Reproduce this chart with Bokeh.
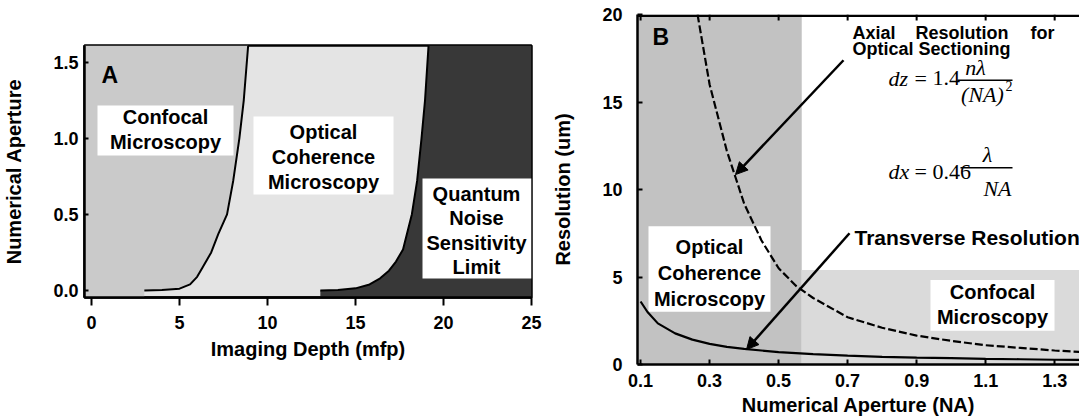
from jinja2 import Template
from bokeh.plotting import figure
from bokeh.models import Range1d, FixedTicker, PrintfTickFormatter, Arrow, NormalHead
from bokeh.core.properties import value
from bokeh.embed import file_html
from bokeh.resources import INLINE

# ---------------- data: panel A ----------------
depth_ticks = [0, 5, 10, 15, 20, 25]
na_ticks = [0.0, 0.5, 1.0, 1.5]
# confocal / OCM boundary (imaging depth in mfp vs numerical aperture)
confocal_depth = [3.0, 4.0, 5.0, 5.6, 6.0, 6.3, 6.8, 7.2, 7.7, 8.05, 8.4, 8.65, 8.9]
confocal_na = [0.0, 0.003, 0.012, 0.04, 0.09, 0.15, 0.25, 0.37, 0.5, 0.72, 1.0, 1.25, 1.61]
# OCM / quantum-noise boundary
ocm_depth = [13.0, 14.0, 15.0, 15.8, 16.4, 16.9, 17.3, 17.7, 18.2, 18.5, 18.75, 18.95, 19.15]
ocm_na = [0.0, 0.004, 0.014, 0.04, 0.08, 0.13, 0.19, 0.27, 0.5, 0.72, 1.0, 1.25, 1.61]

# ---------------- data: panel B ----------------
na_b_ticks = [0.1, 0.3, 0.5, 0.7, 0.9, 1.1, 1.3]
res_ticks = [0, 5, 10, 15, 20]
axial_na = [0.265, 0.3, 0.35, 0.375, 0.4, 0.45, 0.5, 0.55, 0.6, 0.7, 0.8, 0.9, 1.0, 1.1, 1.2, 1.3, 1.372]
axial_res = [20.0, 16.0, 12.2, 10.7, 9.2, 7.1, 5.5, 4.5, 3.8, 2.7, 2.1, 1.65, 1.35, 1.1, 0.95, 0.8, 0.72]
trans_na = [0.1, 0.12, 0.15, 0.2, 0.25, 0.3, 0.35, 0.4, 0.5, 0.6, 0.7, 0.8, 0.9, 1.0, 1.1, 1.2, 1.3, 1.372]
trans_res = [3.6, 3.0, 2.35, 1.78, 1.42, 1.18, 1.01, 0.89, 0.71, 0.59, 0.51, 0.44, 0.39, 0.36, 0.32, 0.3, 0.27, 0.26]
ocm_limit_na = 0.567
confocal_band_res = 5.4

SANS = value("Liberation Sans")
SERIF = value("Liberation Serif")

# ---------------- panel A ----------------
AX0, AX1, AY0, AY1 = -0.4, 25.0, -0.046, 1.61
A_L, A_R, A_T, A_B = 84, 531, 45, 297


def ax(px):
    return AX0 + (px - A_L) * (AX1 - AX0) / (A_R - A_L)


def ay(py):
    return AY1 - (py - A_T) * (AY1 - AY0) / (A_B - A_T)


pa = figure(width=545, height=418, output_backend="svg", toolbar_location=None,
            x_range=Range1d(AX0, AX1), y_range=Range1d(AY0, AY1),
            min_border_left=A_L, min_border_right=545 - A_R, min_border_top=A_T,
            min_border_bottom=418 - A_B)
pa.background_fill_color = "#e4e4e4"
pa.border_fill_color = "white"
pa.outline_line_color = "black"
pa.outline_line_width = 2.5
pa.xgrid.grid_line_color = None
pa.ygrid.grid_line_color = None

# region fills
n1 = len(confocal_na)
pa.harea(y=[AY0] + confocal_na, x1=[AX0] * (n1 + 1), x2=[confocal_depth[0]] + confocal_depth,
         fill_color="#cacaca")
n2 = len(ocm_na)
pa.harea(y=[AY0] + ocm_na, x1=[ocm_depth[0]] + ocm_depth, x2=[AX1] * (n2 + 1),
         fill_color="#383838")
pa.line(confocal_depth, confocal_na, line_color="black", line_width=2)
pa.line(ocm_depth, ocm_na, line_color="black", line_width=2)

# text boxes
pa.quad(left=[ax(97), ax(253), ax(422)], right=[ax(233), ax(393), ax(531)],
        top=[ay(105), ay(116), ay(178)], bottom=[ay(155), ay(194), ay(278)],
        fill_color="white", line_color=None)
box_txt = ["Confocal", "Microscopy", "Optical", "Coherence", "Microscopy",
           "Quantum", "Noise", "Sensitivity", "Limit"]
box_x = [165, 165, 323, 323, 323, 476, 476, 476, 476]
box_y = [116, 141, 131, 156, 181, 193, 217, 242, 266]
pa.text(x=[ax(v) for v in box_x], y=[ay(v) for v in box_y], text=box_txt,
        text_font=SANS, text_font_style="bold", text_font_size="20px",
        text_align="center", text_baseline="middle", text_color="black")
pa.text(x=[ax(101)], y=[ay(74)], text=["A"], text_font=SANS, text_font_style="bold",
        text_font_size="23px", text_align="left", text_baseline="middle", text_color="black")

pa.xaxis.ticker = FixedTicker(ticks=depth_ticks)
pa.yaxis.ticker = FixedTicker(ticks=na_ticks)
pa.yaxis.formatter = PrintfTickFormatter(format="%.1f")
pa.xaxis.axis_label = "Imaging Depth (mfp)"
pa.yaxis.axis_label = "Numerical Aperture"
for axis in (pa.xaxis[0], pa.yaxis[0]):
    axis.axis_line_width = 2.5
    axis.major_tick_line_width = 2
    axis.minor_tick_line_color = None
    axis.major_label_text_font = "Liberation Sans"
    axis.major_label_text_font_style = "bold"
    axis.major_label_text_font_size = "18px"
    axis.major_label_text_color = "black"
    axis.axis_label_text_font = "Liberation Sans"
    axis.axis_label_text_font_style = "bold"
    axis.axis_label_text_font_size = "20px"
    axis.axis_label_text_color = "black"
pa.xaxis.major_tick_out = 8
pa.xaxis.major_tick_in = 0
pa.xaxis.major_label_standoff = 10
pa.xaxis.axis_label_standoff = 6
pa.yaxis.major_tick_out = 0
pa.yaxis.major_tick_in = 4
pa.yaxis.major_label_standoff = 6
pa.yaxis.axis_label_standoff = 25

# ---------------- panel B ----------------
BX0, BX1, BY0, BY1 = 0.091, 1.372, 0.0, 20.0
B_L, B_R, B_T, B_B = 637 - 545, 1079 - 545, 14, 366


def bx(px):
    return BX0 + (px - 637) * (BX1 - BX0) / (1079 - 637)


def by(py):
    return BY1 - (py - B_T) * (BY1 - BY0) / (B_B - B_T)


pb = figure(width=534, height=418, output_backend="svg", toolbar_location=None,
            x_range=Range1d(BX0, BX1), y_range=Range1d(BY0, BY1),
            min_border_left=B_L, min_border_right=0, min_border_top=B_T,
            min_border_bottom=418 - B_B)
pb.background_fill_color = "white"
pb.border_fill_color = "white"
pb.outline_line_color = None
pb.xgrid.grid_line_color = None
pb.ygrid.grid_line_color = None
bottom_axis = pb.xaxis[0]
left_axis = pb.yaxis[0]

pb.quad(left=[BX0], right=[ocm_limit_na], bottom=[BY0], top=[BY1],
        fill_color="#c2c2c2", line_color=None)
pb.quad(left=[ocm_limit_na], right=[BX1], bottom=[BY0], top=[confocal_band_res],
        fill_color="#dadada", line_color=None)

# top frame edge with inward tick marks
edge_off = (BY1 - BY0) * 1.2 / (B_B - B_T)
tick_len = (BY1 - BY0) * 6 / (B_B - B_T)
pb.line(x=[BX0, BX1], y=[BY1 - edge_off, BY1 - edge_off], line_color="black", line_width=2.5)
pb.segment(x0=na_b_ticks, x1=na_b_ticks, y0=[BY1] * len(na_b_ticks),
           y1=[BY1 - tick_len] * len(na_b_ticks), line_color="black", line_width=2)

# text boxes
pb.quad(left=[bx(648), bx(930)], right=[bx(770), bx(1054)],
        top=[by(227), by(281)], bottom=[by(313), by(332)],
        fill_color="white", line_color=None)

pb.line(axial_na, axial_res, line_color="black", line_width=2.2, line_dash="8 3")
pb.line(trans_na, trans_res, line_color="black", line_width=2.2)

pb_txt = ["Optical", "Coherence", "Microscopy", "Confocal", "Microscopy"]
pb_x = [709, 709, 709, 992, 992]
pb_y = [248, 274, 300, 293, 318]
pb.text(x=[bx(v) for v in pb_x], y=[by(v) for v in pb_y], text=pb_txt,
        text_font=SANS, text_font_style="bold", text_font_size="20px",
        text_align="center", text_baseline="middle", text_color="black")
pb.text(x=[bx(652)], y=[by(37)], text=["B"], text_font=SANS, text_font_style="bold",
        text_font_size="23px", text_align="left", text_baseline="middle", text_color="black")

# annotation texts
pb.text(x=[bx(852), bx(915), bx(1030)], y=[by(33)] * 3, text=["Axial", "Resolution", "for"],
        text_font=SANS, text_font_style="bold", text_font_size="18px",
        text_align="left", text_baseline="middle", text_color="black")
pb.text(x=[bx(852)], y=[by(49)], text=["Optical Sectioning"],
        text_font=SANS, text_font_style="bold", text_font_size="18px",
        text_align="left", text_baseline="middle", text_color="black")
pb.text(x=[bx(854)], y=[by(238)], text=["Transverse Resolution"],
        text_font=SANS, text_font_style="bold", text_font_size="21px",
        text_align="left", text_baseline="middle", text_color="black")

# equations
pb.text(x=[bx(888), bx(888)], y=[by(78), by(172)], text=["dz", "dx"],
        text_font=SERIF, text_font_style="italic", text_font_size="22px",
        text_align="left", text_baseline="middle", text_color="black")
pb.text(x=[bx(914), bx(914), bx(932), bx(932)], y=[by(78), by(172), by(78), by(172)],
        text=["=", "=", "1.4", "0.46"],
        text_font=SERIF, text_font_size="22px",
        text_align="left", text_baseline="middle", text_color="black")
pb.text(x=[bx(975), bx(987), bx(982), bx(997)], y=[by(67), by(155), by(94), by(189)],
        text=["n\u03bb", "\u03bb", "(NA)", "NA"],
        text_font=SERIF, text_font_style="italic", text_font_size="22px",
        text_align="center", text_baseline="middle", text_color="black")
pb.text(x=[bx(1005)], y=[by(86)], text=["2"], text_font=SERIF, text_font_size="14px",
        text_align="left", text_baseline="middle", text_color="black")
pb.segment(x0=[bx(957), bx(960)], x1=[bx(1012), bx(1012)], y0=[by(80), by(168)],
           y1=[by(80), by(168)], line_color="black", line_width=1.5)

# arrows
pb.add_layout(Arrow(end=NormalHead(size=12, fill_color="black", line_color="black"),
                    x_start=bx(843), y_start=by(60), x_end=bx(735), y_end=by(175),
                    line_color="black", line_width=2.5))
pb.add_layout(Arrow(end=NormalHead(size=12, fill_color="black", line_color="black"),
                    x_start=bx(849), y_start=by(234), x_end=bx(746), y_end=by(351),
                    line_color="black", line_width=2.5))

bottom_axis.ticker = FixedTicker(ticks=na_b_ticks)
bottom_axis.formatter = PrintfTickFormatter(format="%.1f")
left_axis.ticker = FixedTicker(ticks=res_ticks)
bottom_axis.axis_label = "Numerical Aperture (NA)"
left_axis.axis_label = "Resolution (um)"
for axis in (bottom_axis, left_axis):
    axis.axis_line_width = 2.5
    axis.axis_line_color = "black"
    axis.major_tick_line_width = 2
    axis.major_tick_line_color = "black"
    axis.minor_tick_line_color = None
    axis.major_tick_in = 5
    axis.major_tick_out = 0
    axis.major_label_text_font = "Liberation Sans"
    axis.major_label_text_font_style = "bold"
    axis.major_label_text_font_size = "18px"
    axis.major_label_text_color = "black"
    axis.axis_label_text_font = "Liberation Sans"
    axis.axis_label_text_font_style = "bold"
    axis.axis_label_text_font_size = "20px"
    axis.axis_label_text_color = "black"
bottom_axis.major_label_standoff = 9
bottom_axis.axis_label_standoff = 4
left_axis.major_label_standoff = 15
left_axis.axis_label_standoff = 25

PAGE = Template("""<!DOCTYPE html>
<html lang="en">
<head>
<meta charset="utf-8">
<title>Confocal vs OCM</title>
<style>html, body { margin: 0; padding: 0; }</style>
{{ bokeh_css }}
{{ bokeh_js }}
</head>
<body>
<div style="display: flex; flex-direction: row; align-items: flex-start;">
{{ plot_div }}
</div>
{{ plot_script }}
</body>
</html>
""")

open("out.html", "w").write(file_html([pa, pb], INLINE, template=PAGE))
